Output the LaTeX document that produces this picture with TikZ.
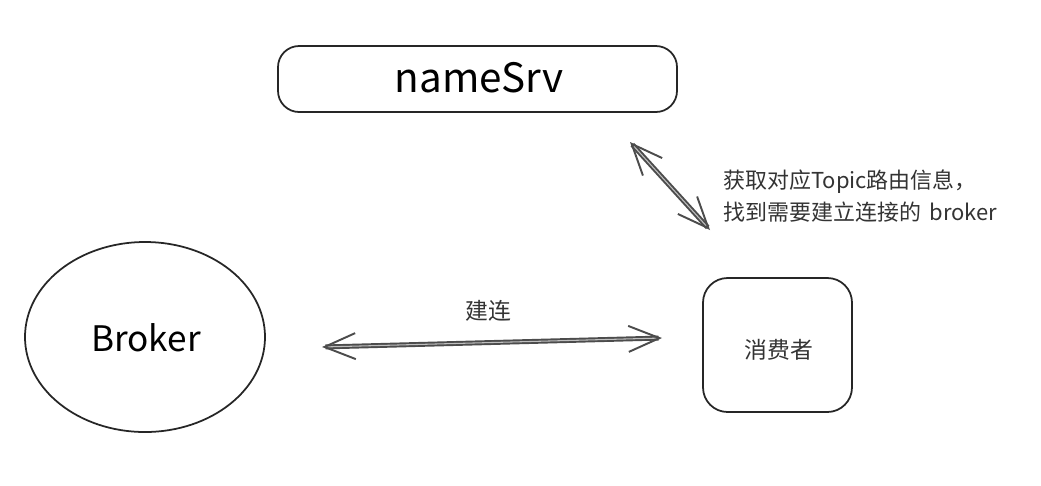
\documentclass[tikz,border=0pt]{standalone}
\usepackage{fontspec}
\setmainfont{Noto Sans CJK SC}
\usetikzlibrary{arrows.meta}
\tikzset{
  sketch/.style={draw=black!85, line width=1pt},
  box/.style={sketch, rounded corners=#1, inner sep=0pt},
  twoway/.style={draw=black!70, line width=1.1pt, double=white!75!black, double distance=0.6pt,
    {Straight Barb[length=0.62cm,width=0.52cm,line width=1.1pt]}-{Straight Barb[length=0.62cm,width=0.52cm,line width=1.1pt]}},
  lbl/.style={font=\fontsize{13}{15}\selectfont, text=black!80}
}
\begin{document}
\begin{tikzpicture}[x=0.02cm,y=-0.02cm]
\useasboundingbox (0,0) rectangle (1041,485);
% nameSrv
\node[box=12pt, minimum width=399*0.02cm, minimum height=66*0.02cm] (ns) at (477.5,79) {};
\node[font=\fontsize{23}{26}\selectfont] (nst) at (479,78) {nameSrv};
% Broker
\draw[sketch] (145,337) ellipse [x radius=120, y radius=95];
\node[font=\fontsize{20}{24}\selectfont] (br) at (146,338) {Broker};
% consumer
\node[box=14pt, minimum width=149*0.02cm, minimum height=134*0.02cm] (cs) at (777.5,345) {};
\node[lbl] (cst) at (779,350) {消费者};
% horizontal arrow
\coordinate (h1) at (322,347);
\coordinate (h2) at (662,338);
\draw[twoway] (h1) -- (h2);
\node[lbl] (jl) at (488,311) {建连};
% diagonal arrow
\coordinate (d1) at (630,142);
\coordinate (d2) at (710,230);
\draw[twoway] (d1) -- (d2);
\node[font=\fontsize{12.5}{18.5}\selectfont, text=black!80, align=left, anchor=north west, inner sep=0pt] (ann) at (723,169)
  {获取对应Topic路由信息，\\找到需要建立连接的 \,broker};
\end{tikzpicture}
\end{document}
